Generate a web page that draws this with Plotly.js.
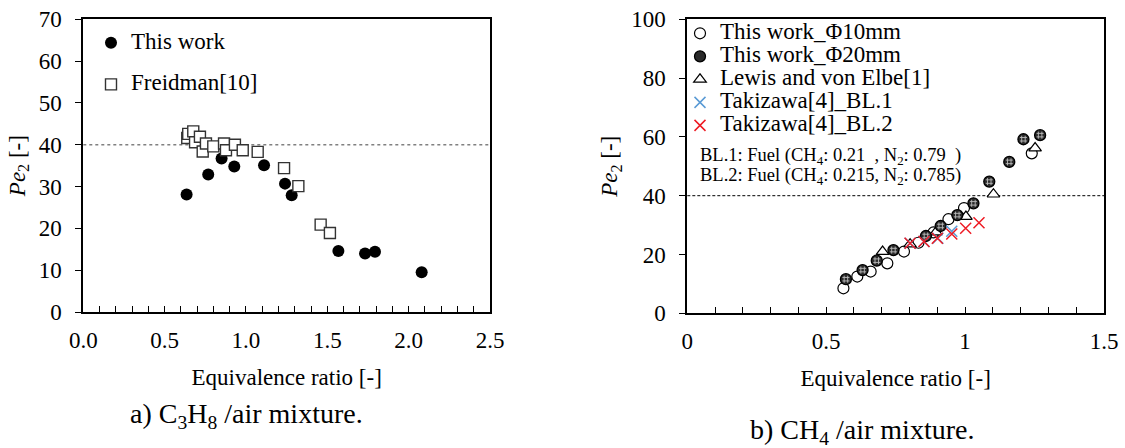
<!DOCTYPE html>
<html>
<head>
<meta charset="utf-8">
<script src="https://cdn.plot.ly/plotly-3.0.1.min.js"></script>
<style>html,body{margin:0;padding:0;background:#fff;}#chart{width:1125px;height:448px;}</style>
</head>
<body>
<div id="chart"></div>
<script>
// ---- Data ----
// a) C3H8 / air
const c3h8WorkPhi = [0.635, 0.768, 0.850, 0.928, 1.111, 1.240, 1.281, 1.568, 1.732, 1.793, 2.080];
const c3h8WorkPe  = [28.1, 32.9, 36.7, 34.8, 35.1, 30.7, 27.9, 14.6, 14.0, 14.4, 9.5];
const freidmanPhi = [0.639, 0.645, 0.676, 0.687, 0.717, 0.734, 0.754, 0.799, 0.865, 0.877, 0.932, 0.980, 1.072, 1.234, 1.322, 1.459, 1.516];
const freidmanPe  = [41.6, 42.6, 43.2, 40.6, 41.9, 38.4, 40.3, 39.6, 40.3, 38.7, 40.0, 38.7, 38.3, 34.4, 30.1, 20.9, 18.9];
// b) CH4 / air
const phi10X = [0.562, 0.612, 0.660, 0.720, 0.780, 0.832, 0.886, 0.940, 0.996, 1.240];
const phi10Y = [8.5, 12.5, 14.2, 17.0, 21.0, 24.0, 27.5, 32.0, 35.8, 54.4];
const phi20X = [0.571, 0.631, 0.682, 0.742, 0.859, 0.912, 0.972, 1.030, 1.087, 1.159, 1.210, 1.270];
const phi20Y = [11.6, 14.7, 17.9, 21.5, 26.3, 29.7, 33.4, 37.4, 44.8, 51.5, 59.2, 60.6];
const lewisX = [0.703, 0.802, 0.895, 1.003, 1.102, 1.252];
const lewisY = [21.0, 23.5, 27.6, 32.9, 40.5, 56.2];
const bl1X = [0.802, 0.852, 0.902, 0.952];
const bl1Y = [23.8, 24.4, 25.5, 27.9];
const bl2X = [0.802, 0.852, 0.900, 0.952, 1.002, 1.050];
const bl2Y = [23.8, 24.4, 25.5, 27.0, 28.9, 30.8];
const criticalPe = 40;

const leftXTicks = [0, 0.5, 1.0, 1.5, 2.0, 2.5];
const rightXTicks = [0, 0.5, 1, 1.5];

// ---- Layout helpers (pixel -> paper) ----
const W = 1125, H = 448;
const fx = p => p / W;
const fy = p => 1 - p / H;
const FONT = 'Liberation Serif';
const big = s => '<span style="font-size:23px">' + s + '</span>';

const traces = [
  {x: c3h8WorkPhi, y: c3h8WorkPe, xaxis: 'x', yaxis: 'y', type: 'scatter', mode: 'markers',
   name: big('This work'), legend: 'legend', legendgroup: 'a1',
   marker: {symbol: 'circle', size: 12, color: '#000', line: {width: 0}}},
  {x: freidmanPhi, y: freidmanPe, xaxis: 'x', yaxis: 'y', type: 'scatter', mode: 'markers',
   name: big('Freidman[10]'), legend: 'legend', legendgroup: 'a2',
   marker: {symbol: 'square', size: 11, color: '#fff', line: {width: 1.4, color: '#333'}}},

  {x: phi10X, y: phi10Y, xaxis: 'x2', yaxis: 'y2', type: 'scatter', mode: 'markers',
   name: big('This work_Φ10mm'), legend: 'legend2', legendrank: 1,
   marker: {symbol: 'circle', size: 11, color: '#fff', line: {width: 1.2, color: '#000'}}},
  {x: lewisX, y: lewisY, xaxis: 'x2', yaxis: 'y2', type: 'scatter', mode: 'markers',
   name: big('Lewis and von Elbe[1]'), legend: 'legend2', legendrank: 3,
   marker: {symbol: 'triangle-up', size: 11, color: '#fff', line: {width: 1.2, color: '#000'}}},
  {x: phi20X, y: phi20Y, xaxis: 'x2', yaxis: 'y2', type: 'scatter', mode: 'markers',
   name: big('This work_Φ20mm'), legend: 'legend2', legendrank: 2,
   marker: {symbol: 'circle', size: 11, color: '#2a2a2a', line: {width: 1.3, color: '#000'}}},
  {x: phi20X, y: phi20Y, xaxis: 'x2', yaxis: 'y2', type: 'scatter', mode: 'markers',
   showlegend: false, hoverinfo: 'skip',
   marker: {symbol: 'hash-open', size: 7, color: '#bbbbbb', line: {width: 0.9, color: '#bbbbbb'}}},
  {x: bl1X, y: bl1Y, xaxis: 'x2', yaxis: 'y2', type: 'scatter', mode: 'markers',
   name: big('Takizawa[4]_BL.1'), legend: 'legend2', legendrank: 4,
   marker: {symbol: 'x-thin-open', size: 11, color: '#5b9bd5', line: {width: 1.5, color: '#5b9bd5'}}},
  {x: bl2X, y: bl2Y, xaxis: 'x2', yaxis: 'y2', type: 'scatter', mode: 'markers',
   name: big('Takizawa[4]_BL.2'), legend: 'legend2', legendrank: 5,
   marker: {symbol: 'x-thin-open', size: 11, color: '#ee1c25', line: {width: 1.5, color: '#ee1c25'}}}
];

const axFont = {family: FONT, size: 23, color: '#000'};
const xCommon = {
  showline: true, mirror: true, linecolor: '#000', linewidth: 2,
  ticks: 'inside', ticklen: 6, tickwidth: 1, tickcolor: '#000',
  showgrid: false, zeroline: false, tickfont: axFont, ticklabelstandoff: 6,
  minor: {dtick: 0.1, ticks: 'inside', ticklen: 6, tickwidth: 1, tickcolor: '#000', showgrid: false},
  title: {text: 'Equivalence ratio [-]', font: axFont, standoff: 17}
};
const yCommon = {
  showline: true, mirror: true, linecolor: '#000', linewidth: 2,
  ticks: 'outside', ticklen: 6, tickwidth: 1, tickcolor: '#000',
  showgrid: false, zeroline: false, tickfont: axFont, ticklabelstandoff: 9,
  title: {text: '<i>Pe</i><sub>2</sub> [-]', font: axFont, standoff: 7}
};

const layout = {
  width: W, height: H,
  margin: {l: 0, r: 0, t: 0, b: 0},
  paper_bgcolor: '#fff', plot_bgcolor: '#fff',
  font: {family: FONT, color: '#000'},
  showlegend: true,
  xaxis: Object.assign({}, xCommon, {domain: [fx(83.3), fx(490)], range: [0, 2.5],
    tickvals: leftXTicks, tickformat: '.1f', anchor: 'y'}),
  yaxis: Object.assign({}, yCommon, {domain: [fy(312), fy(19.3)], range: [0, 70], dtick: 10, anchor: 'x'}),
  xaxis2: Object.assign({}, xCommon, {domain: [fx(687.3), fx(1104)], range: [0, 1.5],
    tickvals: rightXTicks, anchor: 'y2'}),
  yaxis2: Object.assign({}, yCommon, {domain: [fy(313.3), fy(19.3)], range: [0, 100], dtick: 20, anchor: 'x2'}),
  legend: {x: fx(91), y: fy(26.2), xanchor: 'left', yanchor: 'top', bgcolor: 'rgba(0,0,0,0)',
    borderwidth: 0, font: {family: FONT, size: 15.4, color: '#000'}, tracegroupgap: 18.6, traceorder: 'grouped'},
  legend2: {x: fx(680), y: fy(16.8), xanchor: 'left', yanchor: 'top', bgcolor: 'rgba(0,0,0,0)',
    borderwidth: 0, font: {family: FONT, size: 15.4, color: '#000'}, traceorder: 'normal'},
  shapes: [
    {type: 'line', xref: 'x domain', yref: 'y', x0: 0, x1: 1, y0: criticalPe, y1: criticalPe,
     line: {color: '#808080', width: 1.5, dash: 'dot'}, layer: 'below'},
    {type: 'line', xref: 'x2 domain', yref: 'y2', x0: 0, x1: 1, y0: criticalPe, y1: criticalPe,
     line: {color: '#000', width: 1, dash: '3px,2px'}, layer: 'below'}
  ],
  annotations: [
    {xref: 'paper', yref: 'paper', x: fx(698), y: fy(156.7), xanchor: 'left', yanchor: 'middle', showarrow: false,
     text: 'BL.1: Fuel (CH<sub>4</sub>: 0.21\u00a0\u00a0, N<sub>2</sub>: 0.79\u00a0\u00a0)',
     font: {family: FONT, size: 18.5, color: '#000'}},
    {xref: 'paper', yref: 'paper', x: fx(698), y: fy(176.7), xanchor: 'left', yanchor: 'middle', showarrow: false,
     text: 'BL.2: Fuel (CH<sub>4</sub>: 0.215, N<sub>2</sub>: 0.785)',
     font: {family: FONT, size: 18.5, color: '#000'}},
    {xref: 'paper', yref: 'paper', x: fx(246.7), y: fy(415), xanchor: 'center', yanchor: 'middle', showarrow: false,
     text: 'a) C<sub>3</sub>H<sub>8</sub> /air mixture.', font: {family: FONT, size: 28, color: '#000'}},
    {xref: 'paper', yref: 'paper', x: fx(862), y: fy(431), xanchor: 'center', yanchor: 'middle', showarrow: false,
     text: 'b) CH<sub>4</sub> /air mixture.', font: {family: FONT, size: 28, color: '#000'}}
  ]
};

Plotly.newPlot('chart', traces, layout, {staticPlot: true, displayModeBar: false});
</script>
</body>
</html>
